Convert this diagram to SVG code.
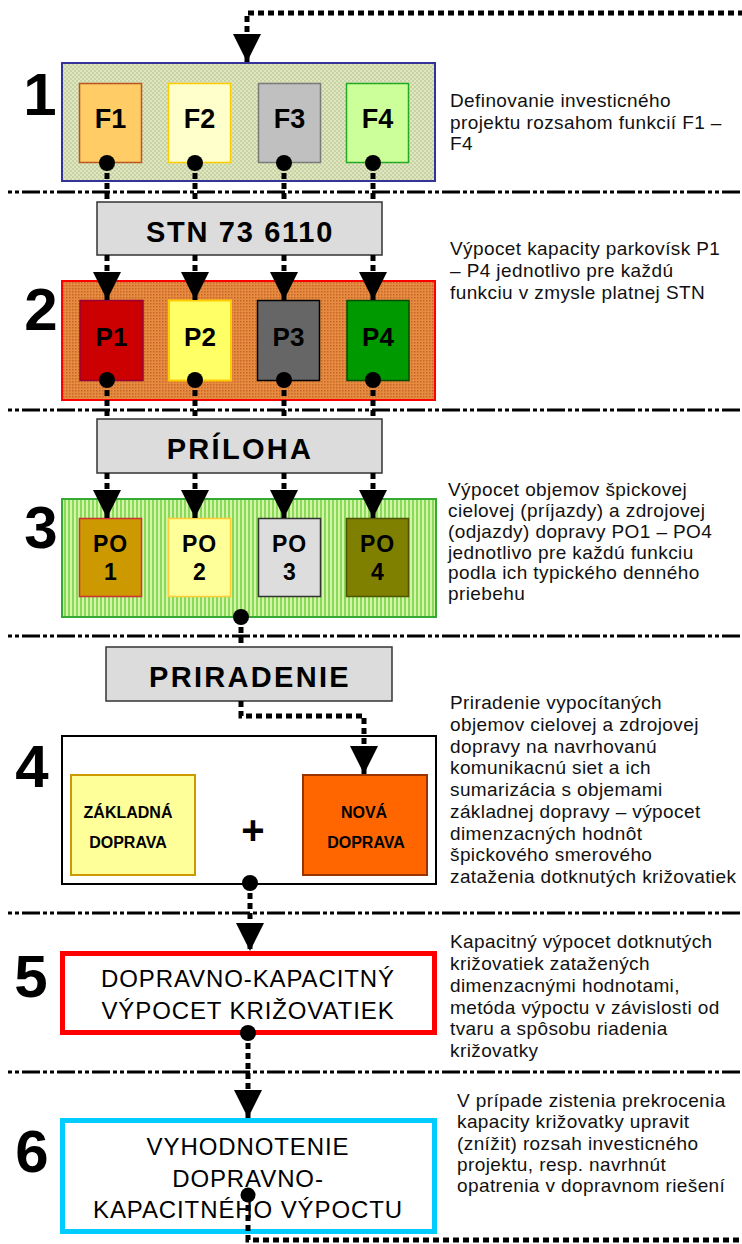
<svg xmlns="http://www.w3.org/2000/svg" width="742" height="1244" viewBox="0 0 742 1244">
<style>
.num{font-family:"Liberation Sans",Arial,sans-serif;font-weight:bold;font-size:60px;text-anchor:middle;fill:#000}
.lab{font-family:"Liberation Sans",Arial,sans-serif;font-weight:bold;text-anchor:middle;fill:#000}
.big{font-family:"Liberation Sans",Arial,sans-serif;font-weight:bold;font-size:29px;text-anchor:middle;letter-spacing:2.3px;fill:#000}
.box5{font-family:"Liberation Sans",Arial,sans-serif;font-size:24px;text-anchor:middle;letter-spacing:0.9px;fill:#000}
.desc{font-family:"Liberation Sans",Arial,sans-serif;font-size:19px;letter-spacing:0.4px;fill:#111}
.sep{stroke:#000;stroke-width:3;stroke-dasharray:4 3 4 3 18 3;fill:none}
.con{stroke:#000;stroke-width:5;stroke-dasharray:6 4;fill:none}
.arr{marker-end:url(#ah)}
.dot{fill:#000}
.gbox{fill:#dcdcdc;stroke:#333;stroke-width:1.5}
</style>
<defs>
<marker id="ah" viewBox="0 0 28 28" refX="28" refY="14" markerWidth="28" markerHeight="28" markerUnits="userSpaceOnUse" orient="auto"><path d="M0,0 L28,14 L0,28 z" fill="#000"/></marker>
<pattern id="pat1" width="4" height="4" patternUnits="userSpaceOnUse"><rect width="4" height="4" fill="#e0e6c4"/><rect width="2" height="2" fill="#c8d3a2"/><rect x="2" y="2" width="2" height="2" fill="#c8d3a2"/></pattern>
<pattern id="pat2" width="3" height="3" patternUnits="userSpaceOnUse"><rect width="3" height="3" fill="#e68c40"/><rect width="1.5" height="1.5" fill="#c8642a"/></pattern>
<pattern id="pat3" width="4" height="4" patternUnits="userSpaceOnUse"><rect width="4" height="4" fill="#8ad95a"/><rect x="2" width="2" height="4" fill="#d2f5a6"/></pattern>
</defs>

<g id="separators">
<line class="sep" x1="8" y1="192" x2="742" y2="192"/>
<line class="sep" x1="8" y1="410" x2="742" y2="410"/>
<line class="sep" x1="8" y1="636" x2="742" y2="636"/>
<line class="sep" x1="8" y1="913" x2="742" y2="913"/>
<line class="sep" x1="8" y1="1072" x2="742" y2="1072"/>
</g>

<g id="step-numbers">
<text class="num" x="40" y="115">1</text>
<text class="num" x="41" y="330">2</text>
<text class="num" x="41" y="548">3</text>
<text class="num" x="32" y="787">4</text>
<text class="num" x="31" y="997">5</text>
<text class="num" x="32" y="1172">6</text>
</g>

<g id="stage1">
<rect x="62" y="63" width="373" height="118" fill="url(#pat1)" stroke="#333399" stroke-width="2"/>
</g>
<g id="F1"><rect x="79.5" y="83.5" width="62" height="79" fill="#ffcc66" stroke="#b8561e" stroke-width="1.5"/><text class="lab" x="110.5" y="128" font-size="27">F1</text></g>
<g id="F2"><rect x="168.5" y="83.5" width="62" height="79" fill="#ffffcc" stroke="#ffcc00" stroke-width="1.5"/><text class="lab" x="199.5" y="128" font-size="27">F2</text></g>
<g id="F3"><rect x="258.5" y="83.5" width="62" height="79" fill="#c0c0c0" stroke="#7a7a7a" stroke-width="1.5"/><text class="lab" x="289.5" y="128" font-size="27">F3</text></g>
<g id="F4"><rect x="346.5" y="83.5" width="62" height="79" fill="#ccff99" stroke="#22aa22" stroke-width="1.5"/><text class="lab" x="377.5" y="128" font-size="27">F4</text></g>

<g id="stn"><rect class="gbox" x="97" y="202" width="285" height="53"/><text class="big" x="240" y="242" style="letter-spacing:1.7px">STN 73 6110</text></g>

<g id="stage2">
<rect x="62" y="281" width="373" height="119" fill="url(#pat2)" stroke="#ff0000" stroke-width="2"/>
</g>
<g id="P1"><rect x="80" y="300.5" width="63" height="80" fill="#cc0000" stroke="#990033" stroke-width="1.5"/><text class="lab" x="111.5" y="346" font-size="26">P1</text></g>
<g id="P2"><rect x="169" y="300.5" width="62" height="80" fill="#ffff66" stroke="#ffcc00" stroke-width="2"/><text class="lab" x="200" y="346" font-size="26">P2</text></g>
<g id="P3"><rect x="257.5" y="300.5" width="62" height="80" fill="#666666" stroke="#000" stroke-width="1.5"/><text class="lab" x="288.5" y="346" font-size="26">P3</text></g>
<g id="P4"><rect x="347" y="300.5" width="62" height="80" fill="#009900" stroke="#004d00" stroke-width="1.5"/><text class="lab" x="378" y="346" font-size="26">P4</text></g>

<g id="priloha"><rect class="gbox" x="97" y="419" width="285" height="54"/><text class="big" x="240" y="459">PRÍLOHA</text></g>

<g id="stage3">
<rect x="62" y="499" width="374" height="118" fill="url(#pat3)" stroke="#33aa33" stroke-width="2"/>
</g>
<g id="PO1"><rect x="79.5" y="518.5" width="62" height="78" fill="#cc9900" stroke="#cc3333" stroke-width="1.5"/><text class="lab" x="110.5" y="552" font-size="23" letter-spacing="1">PO</text><text class="lab" x="110.5" y="580" font-size="23">1</text></g>
<g id="PO2"><rect x="168.5" y="518.5" width="62" height="78" fill="#ffff99" stroke="#ffcc33" stroke-width="1.5"/><text class="lab" x="199.5" y="552" font-size="23" letter-spacing="1">PO</text><text class="lab" x="199.5" y="580" font-size="23">2</text></g>
<g id="PO3"><rect x="258.5" y="518.5" width="62" height="78" fill="#dddddd" stroke="#333" stroke-width="1.5"/><text class="lab" x="289.5" y="552" font-size="23" letter-spacing="1">PO</text><text class="lab" x="289.5" y="580" font-size="23">3</text></g>
<g id="PO4"><rect x="346.5" y="518.5" width="62" height="78" fill="#7f7f00" stroke="#4d5500" stroke-width="1.5"/><text class="lab" x="377.5" y="552" font-size="23" letter-spacing="1">PO</text><text class="lab" x="377.5" y="580" font-size="23">4</text></g>

<g id="priradenie"><rect class="gbox" x="106" y="647" width="286" height="54"/><text class="big" x="250" y="687">PRIRADENIE</text></g>

<g id="stage4"><rect x="62" y="736" width="374" height="148" fill="#fff" stroke="#000" stroke-width="2"/>
<text class="lab" x="253" y="844" font-size="40">+</text></g>
<g id="zakladna"><rect x="71" y="775" width="124" height="100" fill="#ffff99" stroke="#cc9900" stroke-width="2"/><text class="lab" x="128" y="818" font-size="16">ZÁKLADNÁ</text><text class="lab" x="128" y="848" font-size="16">DOPRAVA</text></g>
<g id="nova"><rect x="303" y="775" width="124" height="100" fill="#ff6600" stroke="#993300" stroke-width="2"/><text class="lab" x="364" y="818" font-size="16">NOVÁ</text><text class="lab" x="366" y="848" font-size="16">DOPRAVA</text></g>

<g id="stage5"><rect x="62.5" y="953.5" width="372" height="79" fill="#fff" stroke="#ff0000" stroke-width="5"/>
<text class="box5" x="248" y="987">DOPRAVNO-KAPACITNÝ</text><text class="box5" x="248" y="1019">VÝPOCET KRIŽOVATIEK</text></g>

<g id="stage6"><rect x="62.5" y="1120.5" width="372" height="111" fill="#fff" stroke="#00ccff" stroke-width="5"/>
<text class="box5" x="248" y="1155">VYHODNOTENIE</text><text class="box5" x="248" y="1187">DOPRAVNO-</text><text class="box5" x="248" y="1218">KAPACITNÉHO VÝPOCTU</text></g>

<g id="descriptions">
<text class="desc" x="450" y="107">Definovanie investicného</text>
<text class="desc" x="450" y="128.5">projektu rozsahom funkcií F1 –</text>
<text class="desc" x="450" y="150">F4</text>
<text class="desc" x="450" y="255">Výpocet kapacity parkovísk P1</text>
<text class="desc" x="450" y="277">– P4 jednotlivo pre každú</text>
<text class="desc" x="450" y="299">funkciu v zmysle platnej STN</text>
<text class="desc" x="448" y="496">Výpocet objemov špickovej</text>
<text class="desc" x="448" y="517">cielovej (príjazdy) a zdrojovej</text>
<text class="desc" x="448" y="538">(odjazdy) dopravy PO1 – PO4</text>
<text class="desc" x="448" y="558.5">jednotlivo pre každú funkciu</text>
<text class="desc" x="448" y="579">podla ich typického denného</text>
<text class="desc" x="448" y="600">priebehu</text>
<text class="desc" x="450" y="709">Priradenie vypocítaných</text>
<text class="desc" x="450" y="731">objemov cielovej a zdrojovej</text>
<text class="desc" x="450" y="752.5">dopravy na navrhovanú</text>
<text class="desc" x="450" y="774">komunikacnú siet a ich</text>
<text class="desc" x="450" y="796">sumarizácia s objemami</text>
<text class="desc" x="450" y="818">základnej dopravy – výpocet</text>
<text class="desc" x="450" y="839.5">dimenzacných hodnôt</text>
<text class="desc" x="450" y="861">špickového smerového</text>
<text class="desc" x="450" y="883">zataženia dotknutých križovatiek</text>
<text class="desc" x="450" y="948">Kapacitný výpocet dotknutých</text>
<text class="desc" x="450" y="970">križovatiek zatažených</text>
<text class="desc" x="450" y="992">dimenzacnými hodnotami,</text>
<text class="desc" x="450" y="1013.5">metóda výpoctu v závislosti od</text>
<text class="desc" x="450" y="1035">tvaru a spôsobu riadenia</text>
<text class="desc" x="450" y="1057">križovatky</text>
<text class="desc" x="457" y="1107">V prípade zistenia prekrocenia</text>
<text class="desc" x="457" y="1128">kapacity križovatky upravit</text>
<text class="desc" x="457" y="1149.5">(znížit) rozsah investicného</text>
<text class="desc" x="457" y="1171">projektu, resp. navrhnút</text>
<text class="desc" x="457" y="1192">opatrenia v dopravnom riešení</text>
</g>

<g id="connectors">
<path class="con arr" d="M248,1195 V1240 H770 V13 H247 V62"/>
<path class="con" d="M107,163 V202"/>
<path class="con" d="M195,163 V202"/>
<path class="con" d="M284,163 V202"/>
<path class="con" d="M373,163 V202"/>
<path class="con arr" d="M107,255 V300"/>
<path class="con arr" d="M195,255 V300"/>
<path class="con arr" d="M284,255 V300"/>
<path class="con arr" d="M373,255 V300"/>
<path class="con" d="M107,380 V419"/>
<path class="con" d="M195,380 V419"/>
<path class="con" d="M284,380 V419"/>
<path class="con" d="M373,380 V419"/>
<path class="con arr" d="M107,473 V518"/>
<path class="con arr" d="M195,473 V518"/>
<path class="con arr" d="M284,473 V518"/>
<path class="con arr" d="M373,473 V518"/>
<path class="con" d="M241,617 V647"/>
<path class="con arr" d="M241,701 V716 H364 V774"/>
<path class="con arr" d="M250,883 V951"/>
<path class="con arr" d="M248,1033 V1118"/>
<circle class="dot" cx="107" cy="163" r="8"/>
<circle class="dot" cx="195" cy="163" r="8"/>
<circle class="dot" cx="284" cy="163" r="8"/>
<circle class="dot" cx="373" cy="163" r="8"/>
<circle class="dot" cx="107" cy="380" r="8"/>
<circle class="dot" cx="195" cy="380" r="8"/>
<circle class="dot" cx="284" cy="380" r="8"/>
<circle class="dot" cx="373" cy="380" r="8"/>
<circle class="dot" cx="241" cy="617" r="8"/>
<circle class="dot" cx="250" cy="883" r="8"/>
<circle class="dot" cx="248" cy="1033" r="8"/>
<circle class="dot" cx="248" cy="1195" r="7.5"/>
</g>
</svg>
